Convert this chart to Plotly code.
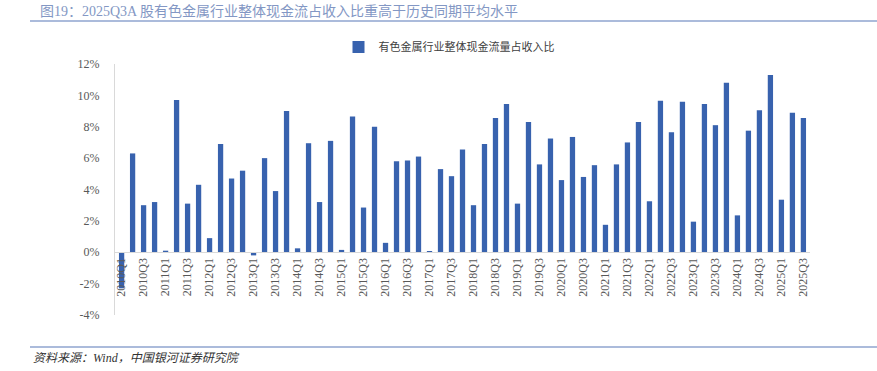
import plotly.graph_objects as go

quarters = [f"{y}Q{q}" for y in range(2010, 2026) for q in range(1, 5)][:63]
values = [
    -2.3, 6.3, 3.0, 3.2,
    0.1, 9.7, 3.1, 4.3,
    0.9, 6.9, 4.7, 5.2,
    -0.2, 6.0, 3.9, 9.0,
    0.25, 6.95, 3.2, 7.1,
    0.15, 8.65, 2.85, 8.0,
    0.6, 5.8, 5.85, 6.1,
    0.05, 5.3, 4.85, 6.55,
    3.0, 6.9, 8.55, 9.45,
    3.1, 8.3, 5.6, 7.25,
    4.6, 7.35, 4.8, 5.55,
    1.75, 5.6, 7.0, 8.3,
    3.25, 9.65, 7.65, 9.6,
    1.95, 9.45, 8.1, 10.8,
    2.35, 7.75, 9.05, 11.3,
    3.35, 8.9, 8.55,
]
series_name = "有色金属行业整体现金流量占收入比"
title_text = "图19：2025Q3A 股有色金属行业整体现金流占收入比重高于历史同期平均水平"
source_text = "资料来源：Wind，中国银河证券研究院"
y_ticks = [-4, -2, 0, 2, 4, 6, 8, 10, 12]
x_ticks = quarters[::2]

W, H = 877, 371
ml, mr, mt, mb = 115, 67, 64, 56
pw, ph = W - ml - mr, H - mt - mb

def px_x(x):
    return (x - ml) / pw

def px_y(y):
    return 1 - (y - mt) / ph

SERIF = "Liberation Serif, Noto Sans CJK SC"

fig = go.Figure()
fig.add_trace(go.Bar(
    x=quarters, y=values, name=series_name,
    marker=dict(color="#3862AE", line=dict(width=0)),
))

ylo, yhi = -4, 12
zero_frac = (0 - ylo) / (yhi - ylo)

fig.update_layout(
    width=W, height=H,
    margin=dict(l=ml, r=mr, t=mt, b=mb),
    plot_bgcolor="white", paper_bgcolor="white",
    bargap=0.52,
    showlegend=True,
    legend=dict(orientation="h", x=px_x(449), xanchor="center", y=px_y(47), yanchor="middle",
                font=dict(family="Noto Sans CJK SC", size=11, color="#404040"),
                itemwidth=30),
    font=dict(family=SERIF, color="#595959", size=12),
    xaxis=dict(
        type="category", tickmode="array", tickvals=x_ticks, ticktext=x_ticks,
        tickangle=-90, anchor="free", position=zero_frac,
        showline=True, linecolor="#D9D9D9", linewidth=1,
        ticks="", showgrid=False, zeroline=False,
        tickfont=dict(family=SERIF, size=12, color="#595959"),
        range=[-0.6, len(quarters) - 0.4],
    ),
    yaxis=dict(
        range=[ylo, yhi], tickvals=y_ticks, ticktext=[f"{v}%" for v in y_ticks],
        showgrid=False, zeroline=False, showline=True, linecolor="#D9D9D9",
        ticks="", ticklabelstandoff=12,
        tickfont=dict(family=SERIF, size=12, color="#595959"),
    ),
)

fig.add_annotation(text=title_text, xref="paper", yref="paper",
                   x=px_x(38), y=px_y(11),
                   xanchor="left", yanchor="middle", showarrow=False,
                   font=dict(family=SERIF, size=14, color="#8397C4"))
fig.add_annotation(text=source_text, xref="paper", yref="paper",
                   x=px_x(31), y=px_y(358),
                   xanchor="left", yanchor="middle", showarrow=False,
                   font=dict(family=SERIF, size=12, color="#333333", style="italic"))

for yline in (21, 347):
    fig.add_shape(type="line", xref="paper", yref="paper",
                  x0=px_x(30), x1=px_x(877),
                  y0=px_y(yline), y1=px_y(yline),
                  line=dict(color="#8FA4CF", width=1.5))

fig.write_html("out.html",
               config={"displayModeBar": False},
               post_script="document.body.style.margin='0';document.body.style.overflow='hidden';")
